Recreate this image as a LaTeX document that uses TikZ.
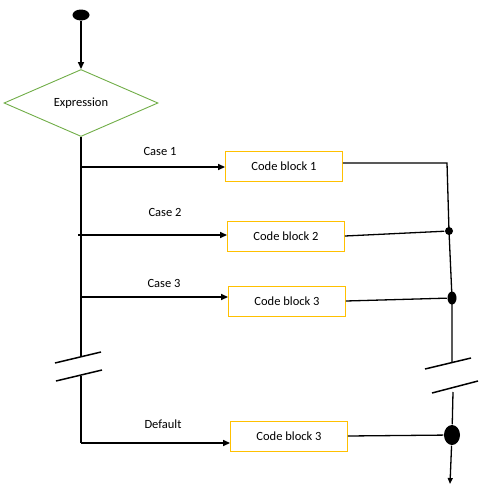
\documentclass[tikz,border=0pt]{standalone}
\usepackage{fontspec}
\setmainfont{Carlito}
\usetikzlibrary{shapes.geometric, positioning, arrows.meta}

\definecolor{exprgreen}{RGB}{112,173,71}
\definecolor{blockgold}{RGB}{255,192,0}

\tikzset{
	block/.style = {draw = blockgold, line width = 0.9pt, minimum width = 117pt, minimum height = 30pt, inner sep = 0pt},
	decision/.style = {diamond, draw = exprgreen, line width = 0.9pt, minimum width = 154pt, minimum height = 67pt, inner sep = 0pt},
	blob/.style = {ellipse, fill = black, inner sep = 0pt},
	flow/.style = {-{Triangle[length = 7pt, width = 6pt]}},
}

\begin{document}
\begin{tikzpicture}[x = 1pt, y = -1pt, line width = 1.5pt, font = \fontsize{12.5}{14}\selectfont]
			\useasboundingbox (0,0) rectangle (482,490);

			% start and expression
			\node [blob, minimum width = 17pt, minimum height = 11pt] (start) at (81,15) {};
			\node [decision] (expr) at (81,103) {Expression};

			% code blocks
			\node [block] (cb1) at (284,166) {Code block 1};
			\node [block] (cb2) at (286,236) {Code block 2};
			\node [block] (cb3) at (287,301) {Code block 3};
			\node [block] (cb4) at (289,436) {Code block 3};

			% case labels
			\node (case1) at (160,151) {Case 1};
			\node (case2) at (165,212) {Case 2};
			\node (case3) at (164,283) {Case 3};
			\node (default) at (163,424) {Default};

			% left trunk
			\coordinate (c1) at (81,167);
			\coordinate (c2) at (81,235);
			\coordinate (c3) at (81,297);
			\coordinate (lb1) at (81,357);
			\coordinate (lb2) at (81,376);
			\coordinate (c4) at (81,443);

			\draw [flow] (start) -- (start |- expr.north);
			\draw (expr.south) -- (lb1);
			\draw (55,363) -- (101,352);
			\draw (56,381) -- (102,370);
			\draw (lb2) -- (c4);

			\begin{scope}[flow]
				\draw (c1) -- (c1 -| cb1.west);
				\draw ([xshift = -3pt]c2) -- (c2 -| cb2.west);
				\draw (c3) -- (c3 -| cb3.west);
				\draw (c4) -- (c4 -| cb4.west);
			\end{scope}

			% right trunk
			\node [blob, minimum size = 8pt] (d1) at (449,231) {};
			\node [blob, minimum width = 9pt, minimum height = 13pt] (d2) at (452,298) {};
			\node [blob, minimum width = 16pt, minimum height = 20pt] (d3) at (452,435) {};
			\coordinate (r1) at (447,163);
			\coordinate (rb1) at (452,362);
			\coordinate (rb2) at (453,392);
			\coordinate (finish) at (450,484);

			\draw [line width = 1.3pt] ([yshift = 3pt]cb1.east) -- (r1) -- (d1.center) -- (d2.center) -- (rb1);
			\draw (425,369) -- (471,358);
			\draw (432,393) -- (478,381);
			\begin{scope}[line width = 1.3pt]
				\draw (rb2) -- (d3);
				\draw (cb2.east) -- (d1);
				\draw (cb3.east) -- (d2);
				\draw (cb4.east) -- (d3);
				\draw [-{Triangle[length = 6pt, width = 5pt]}] (d3) -- (finish);
			\end{scope}
		\end{tikzpicture}
\end{document}
